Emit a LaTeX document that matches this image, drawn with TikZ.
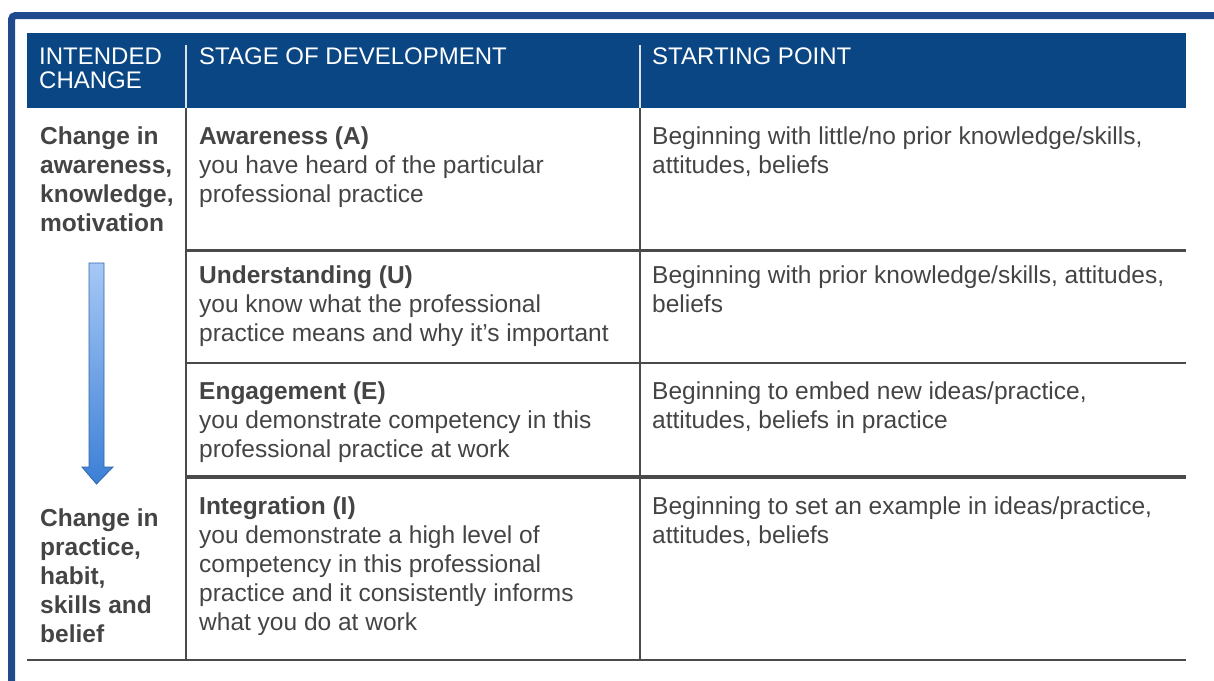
\documentclass[tikz,border=0pt]{standalone}
\usepackage{fontspec}
\setmainfont{Liberation Sans}
\usetikzlibrary{positioning}

\definecolor{frameblue}{HTML}{1F4B8E}
\definecolor{headblue}{HTML}{0A4683}
\definecolor{txtgray}{HTML}{444444}
\definecolor{rulegray}{HTML}{4A4A4A}
\definecolor{arrowtop}{HTML}{A6C8F5}
\definecolor{arrowbot}{HTML}{3C7FD6}

\tikzset{
  hdr/.style={anchor=north west, inner sep=0, align=left, text=white, font=\fontsize{24}{23.5}\selectfont},
  side/.style={anchor=north west, inner sep=0, align=left, text=txtgray, font=\fontsize{24.5}{29}\selectfont\bfseries},
  cell/.style={anchor=north west, inner sep=0, align=left, text=txtgray, font=\fontsize{24.5}{29}\selectfont},
  rowline/.style={draw=rulegray, line width=2.5pt}
}

\begin{document}
\begin{tikzpicture}[x=1pt, y=-1pt]
      \useasboundingbox (0,0) rectangle (1214,680);
      % frame and header band
      \draw[frameblue, line width=7pt, rounded corners=4pt] (11.5,690) -- (11.5,15.5) -- (1220,15.5);
      \fill[headblue] (27,33) rectangle (1186,108);
      \draw[white!85!headblue, line width=1.5pt] (186,45) -- (186,108) (640,45) -- (640,108);

      \node[hdr] (hchange) at (39,48) {INTENDED\\CHANGE};
      \node[hdr] (hstage) at (199,48) {STAGE OF DEVELOPMENT};
      \node[hdr] (hstart) at (652,48) {STARTING POINT};

      % grid
      \draw[rowline] (186,108) -- (186,661);
      \draw[rowline, line width=2pt] (640,108) -- (640,661);
      \draw[rowline, line width=3pt] (186,250) -- (1186,250);
      \draw[rowline, line width=2pt] (186,363) -- (1186,363);
      \draw[rowline, line width=3.5pt] (186,477) -- (1186,477);
      \draw[rowline, line width=2pt] (27,660) -- (1186,660);

      % left column
      \node[side] (cawareness) at (40,127) {Change in\\awareness,\\knowledge,\\motivation};
      \node[side] (cpractice) at (40,509) {Change in\\practice,\\habit,\\skills and\\belief};

      \coordinate (atop) at (96.5,263);
      \coordinate (atip) at (96.5,484);
      \shade[top color=arrowtop, bottom color=arrowbot, draw=arrowbot!80!black, line width=0.8pt]
        ([xshift=-7.5pt]atop) -- ([xshift=7.5pt]atop) -- ([xshift=7.5pt, yshift=17pt]atip)
        -- ([xshift=16.5pt, yshift=17pt]atip) -- (atip) -- ([xshift=-14.5pt, yshift=17pt]atip)
        -- ([xshift=-7.5pt, yshift=17pt]atip) -- cycle;

      % stages
      \node[cell] (awareness) at (199,127) {\textbf{Awareness (A)}\\you have heard of the particular\\professional practice};
      \node[cell] (understanding) at (199,266) {\textbf{Understanding (U)}\\you know what the professional\\practice means and why it’s important};
      \node[cell] (engagement) at (199,382) {\textbf{Engagement (E)}\\you demonstrate competency in this\\professional practice at work};
      \node[cell] (integration) at (199,497) {\textbf{Integration (I)}\\you demonstrate a high level of\\competency in this professional\\practice and it consistently informs\\what you do at work};

      % starting points
      \node[cell] (sawareness) at (652,127) {Beginning with little/no prior knowledge/skills,\\attitudes, beliefs};
      \node[cell] (sunderstanding) at (652,266) {Beginning with prior knowledge/skills, attitudes,\\beliefs};
      \node[cell] (sengagement) at (652,382) {Beginning to embed new ideas/practice,\\attitudes, beliefs in practice};
      \node[cell] (sintegration) at (652,497) {Beginning to set an example in ideas/practice,\\attitudes, beliefs};
\end{tikzpicture}
\end{document}
